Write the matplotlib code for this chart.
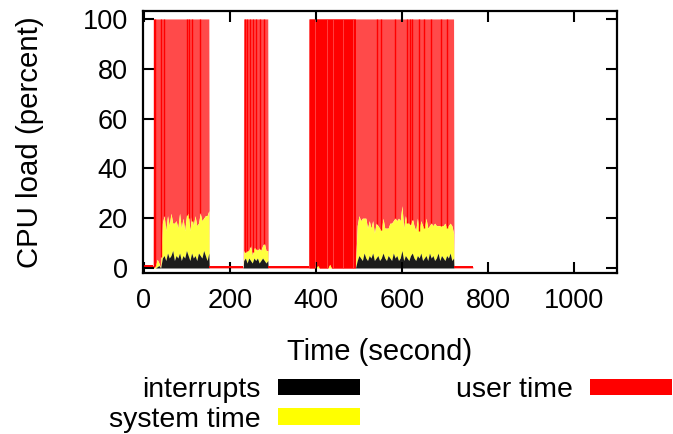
import numpy as np
import matplotlib
matplotlib.use("Agg")
import matplotlib.pyplot as plt
from matplotlib.patches import Patch

plt.rcParams['font.family'] = ['Liberation Sans', 'DejaVu Sans']

# sampled every 4 s inside the three busy phases
seg_a_time = np.arange(23, 152, 4)
seg_a_irq = [0, 0, 0.5, 1, 0, 4, 5, 3, 6, 4, 5, 7, 3, 5, 4, 6, 3, 5, 4, 7,
             5, 3, 6, 4, 5, 3, 6, 5, 4, 7, 5, 3, 6]
seg_a_sys = [0, 1, 3, 1, 0, 14, 16, 12, 15, 13, 17, 11, 15, 14, 12, 16, 13, 15,
             11, 14, 17, 12, 15, 13, 16, 14, 12, 17, 15, 13, 16, 18, 17]

seg_b_time = np.arange(232, 289, 4)
seg_b_irq = [3, 4, 2, 4, 3, 2, 4, 3, 4, 2, 3, 4, 3, 2, 3]
seg_b_sys = [4, 2, 5, 3, 6, 3, 4, 5, 3, 6, 4, 5, 7, 5, 4]

seg_c_time = np.arange(384, 721, 4)
seg_c_irq = [0] * 28 + [3, 5, 4, 3, 6, 4, 3, 5, 4, 6, 3, 4, 5, 3, 4, 6, 4, 3, 5, 4,
                        3, 6, 4, 5, 3, 4, 7, 3, 5, 4, 3, 5, 6, 4, 3, 5, 4, 6, 3, 4,
                        5, 3, 6, 4, 5, 3, 4, 6, 3, 5, 4, 3, 5, 4, 6, 3, 4]
seg_c_sys = [0, 0, 0, 0, 0, 1, 0, 0, 0, 0, 0, 0, 1.5, 0, 0, 0, 0, 0, 0, 0,
             0, 0, 0, 0, 0, 0, 0, 0] + \
            [14, 16, 15, 17, 14, 16, 13, 14, 12, 13, 11, 14, 12, 13, 11, 14, 12, 13, 11, 14,
             15, 13, 16, 14, 17, 15, 18, 13, 16, 14, 15, 12, 14, 13, 12, 15, 11, 13, 14, 12,
             15, 13, 11, 14, 12, 15, 13, 11, 14, 12, 13, 15, 11, 13, 12, 14, 10]

# idle stretches between the phases: (time, total load)
idle_before = ([0, 22], [1, 1])
idle_ab = ([152, 231], [0.5, 0.5])
idle_bc = ([289, 383], [0.5, 0.5])
idle_after = ([721, 765], [0.5, 0.5])

# look of the gnuplot fill: darker stripes, a saturated stretch with light gaps
dark_red_times = [24, 26, 40, 47, 100, 104, 113, 131, 235, 240, 247, 254, 261,
                  270, 279, 542, 551, 584, 612, 618, 623, 640, 652, 668, 690, 705]
saturated_span = (384, 494)
light_gap_times = [398, 426, 440, 463, 486]

time = np.concatenate([idle_before[0], seg_a_time, idle_ab[0], seg_b_time,
                       idle_bc[0], seg_c_time, idle_after[0]])
irq = np.concatenate([[0, 0], seg_a_irq, [0, 0], seg_b_irq, [0, 0], seg_c_irq, [0, 0]])
sys_t = np.concatenate([[0, 0], seg_a_sys, [0, 0], seg_b_sys, [0, 0], seg_c_sys, [0, 0]])
total = np.concatenate([idle_before[1], np.full(len(seg_a_time), 100), idle_ab[1],
                        np.full(len(seg_b_time), 100), idle_bc[1],
                        np.full(len(seg_c_time), 100), idle_after[1]])
lower = irq + sys_t

RED_LIGHT = '#ff4a4a'
YELLOW = '#ffff40'

fig = plt.figure(figsize=(6.73, 4.34), dpi=100)
ax = fig.add_axes([0.2125, 0.371, 0.7043, 0.6037])

ax.fill_between(time, lower, total, color=RED_LIGHT, lw=0)
sat = (time >= saturated_span[0]) & (time <= saturated_span[1])
ax.fill_between(time[sat], lower[sat], total[sat], color='red', lw=0)
ax.vlines(light_gap_times, 0, 100, color=RED_LIGHT, lw=0.6)
ax.vlines(dark_red_times, np.interp(dark_red_times, time, lower), 100,
          color='red', lw=1.0)
ax.fill_between(time, irq, lower, color=YELLOW, lw=0)
ax.fill_between(time, 0, irq, color='#1c1c1c', lw=0)
for t_idle, v_idle in (idle_before, idle_ab, idle_bc, idle_after):
    ax.plot(t_idle, v_idle, color='red', lw=1.4, solid_capstyle='butt')

ax.set_xlim(-2, 1100)
ax.set_ylim(-2, 103.2)
ax.set_xticks([0, 200, 400, 600, 800, 1000])
ax.set_yticks([0, 20, 40, 60, 80, 100])
ax.tick_params(direction='in', length=8, width=1.5, top=True, right=True,
               labelsize=19.5)
ax.tick_params(axis='y', pad=11)
ax.tick_params(axis='x', pad=11)
for s in ax.spines.values():
    s.set_linewidth(1.6)
ax.set_xlabel('Time (second)', fontsize=21, labelpad=17)
ax.set_ylabel('CPU load (percent)', fontsize=21.2, labelpad=28)

handles = [Patch(facecolor='black'), Patch(facecolor='yellow'), Patch(facecolor='red')]
labels = ['interrupts', 'system time', 'user time']
fig.legend(handles, labels, loc='upper left', bbox_to_anchor=(0.162, 0.131),
           ncol=2, markerfirst=False, frameon=False, fontsize=20.5,
           handlelength=2.9, handleheight=0.5, handletextpad=0.6,
           columnspacing=3.35, labelspacing=0.12, borderpad=0, borderaxespad=0)

fig.savefig('out.png', dpi=100)
